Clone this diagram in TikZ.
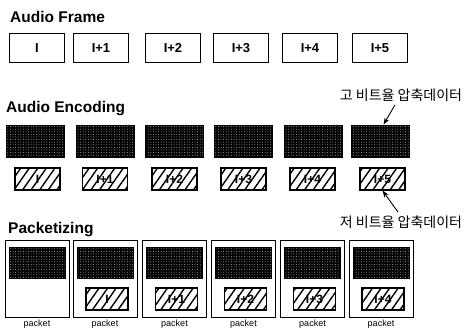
\documentclass[tikz,border=0pt]{standalone}
\usepackage{fontspec}
\setmainfont{Liberation Sans}
\newfontfamily\kor{Noto Sans CJK KR}
\usetikzlibrary{positioning, arrows.meta, patterns.meta}

\begin{document}
\begin{tikzpicture}[x=1pt, y=-1pt,
        ttl/.style={font=\bfseries\fontsize{15.5}{18}\selectfont, anchor=base west, inner sep=0pt},
        frame/.style={draw, line width=0.8pt, minimum width=55pt, minimum height=29pt, inner sep=0pt, font=\bfseries\fontsize{13}{15}\selectfont},
        hiblk/.style={draw, line width=0.8pt, minimum width=58pt, minimum height=32pt, inner sep=0pt, preaction={fill=black}, pattern={Dots[radius=0.5pt, distance=2.6pt]}, pattern color=black!35},
        loblk/.style={draw, line width=1.1pt, minimum width=45pt, minimum height=22pt, inner sep=0pt, pattern={Lines[angle=55, distance=7pt, line width=1.4pt]}, font=\bfseries\fontsize{12}{14}\selectfont},
        pkt/.style={draw, line width=0.9pt, minimum width=64pt, minimum height=77pt},
        paklab/.style={font=\fontsize{9}{11}\selectfont},
        kortxt/.style={font=\kor\fontsize{14}{16}\selectfont}
    ]
    \useasboundingbox (0,0) rectangle (467,332);

    % audio frames
    \node[ttl] (tframe) at (10,23) {Audio Frame};
    \node[frame] (f0) at (37,48)  {I};
    \node[frame] (f1) at (101,48) {I+1};
    \node[frame] (f2) at (173,48) {I+2};
    \node[frame] (f3) at (241,48) {I+3};
    \node[frame] (f4) at (310,48) {I+4};
    \node[frame] (f5) at (380,48) {I+5};

    % encoding: high / low bit rate parts
    \node[ttl] (tenc) at (6,112) {Audio Encoding};
    \node[hiblk] (e0d) at (35.5,141) {};
    \node[hiblk] (e1d) at (105,141)  {};
    \node[hiblk] (e2d) at (174.5,141) {};
    \node[hiblk] (e3d) at (243,141)  {};
    \node[hiblk] (e4d) at (313,141)  {};
    \node[hiblk] (e5d) at (380.5,141) {};

    \node[loblk] (e0h) at (37.5,179)  {I};
    \node[loblk] (e1h) at (105,179)   {I+1};
    \node[loblk] (e2h) at (174.5,179) {I+2};
    \node[loblk] (e3h) at (243.5,179) {I+3};
    \node[loblk] (e4h) at (312.5,179) {I+4};
    \node[loblk] (e5h) at (382.5,179) {I+5};

    \node[kortxt] (hitxt) at (401,95)  {고 비트율 압축데이터};
    \node[kortxt] (lotxt) at (401,222) {저 비트율 압축데이터};
    \draw[line width=0.9pt, -{Stealth[length=7pt, width=5pt]}] ([xshift=-6pt]hitxt.south) -- ([xshift=3pt]e5d.north);
    \draw[line width=0.9pt, -{Stealth[length=7pt, width=5pt]}] ([xshift=-3pt]lotxt.north) -- (e5h.south);

    % packets
    \node[ttl] (tpkt) at (8,233) {Packetizing};
    \node[pkt] (p0) at (37,278.5)   {};
    \node[pkt] (p1) at (105,278.5)  {};
    \node[pkt] (p2) at (174.5,278.5) {};
    \node[pkt] (p3) at (243.5,278.5) {};
    \node[pkt] (p4) at (312.5,278.5) {};
    \node[pkt] (p5) at (381,278.5)  {};

    \node[hiblk, minimum width=56pt, minimum height=31pt] (p0d) at (37,262.5)   {};
    \node[hiblk, minimum width=56pt, minimum height=31pt] (p1d) at (105,262.5)  {};
    \node[hiblk, minimum width=56pt, minimum height=31pt] (p2d) at (174.5,262.5) {};
    \node[hiblk, minimum width=56pt, minimum height=31pt] (p3d) at (243.5,262.5) {};
    \node[hiblk, minimum width=56pt, minimum height=31pt] (p4d) at (312.5,262.5) {};
    \node[hiblk, minimum width=56pt, minimum height=31pt] (p5d) at (381,262.5)  {};

    \node[loblk, minimum width=42pt] (p1h) at (107,299)   {I};
    \node[loblk, minimum width=42pt] (p2h) at (176.5,299) {I+1};
    \node[loblk, minimum width=42pt] (p3h) at (245.5,299) {I+2};
    \node[loblk, minimum width=42pt] (p4h) at (314.5,299) {I+3};
    \node[loblk, minimum width=42pt] (p5h) at (383,299)   {I+4};

    \node[paklab] (l0) at (37,324)    {packet};
    \node[paklab] (l1) at (105,324)   {packet};
    \node[paklab] (l2) at (174.5,324) {packet};
    \node[paklab] (l3) at (243.5,324) {packet};
    \node[paklab] (l4) at (312.5,324) {packet};
    \node[paklab] (l5) at (381,324)   {packet};

\end{tikzpicture}
\end{document}
